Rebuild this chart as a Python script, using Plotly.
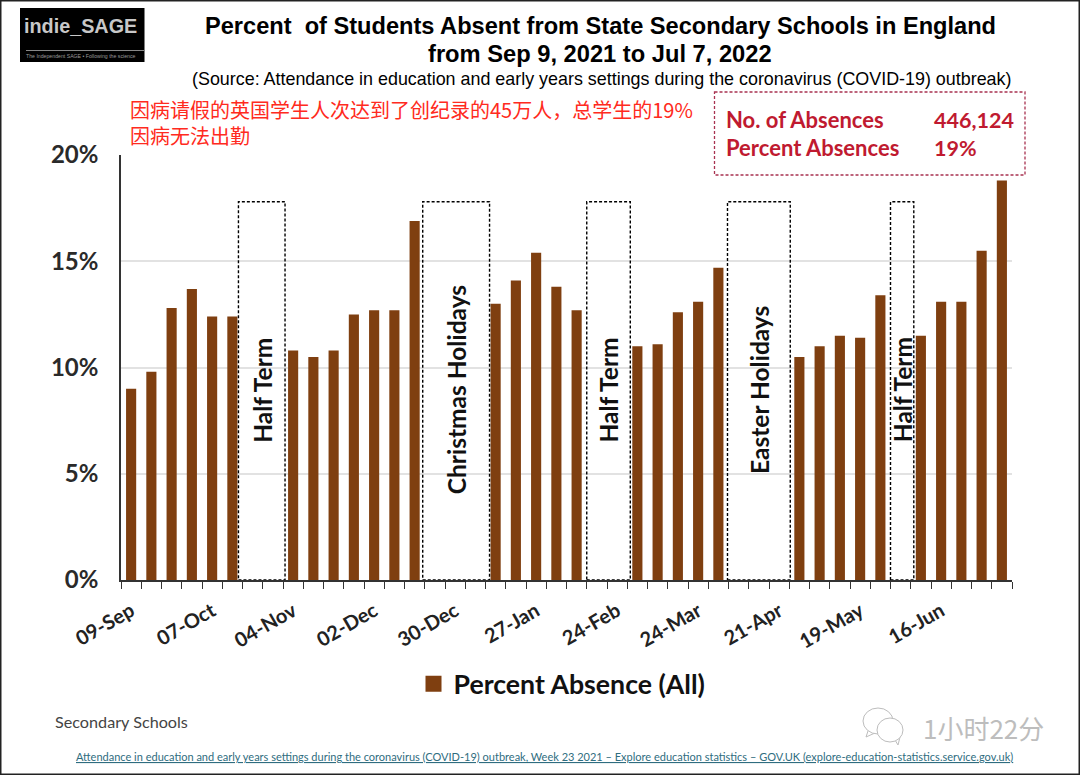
import plotly.graph_objects as go

W, H = 1080, 775
weeks = ["09-Sep","16-Sep","23-Sep","30-Sep","07-Oct","14-Oct","21-Oct","28-Oct","04-Nov","11-Nov","18-Nov","25-Nov",
         "02-Dec","09-Dec","16-Dec","23-Dec","30-Dec","06-Jan","13-Jan","20-Jan","27-Jan","03-Feb","10-Feb","17-Feb",
         "24-Feb","03-Mar","10-Mar","17-Mar","24-Mar","31-Mar","07-Apr","14-Apr","21-Apr","28-Apr","05-May","12-May",
         "19-May","26-May","02-Jun","09-Jun","16-Jun","23-Jun","30-Jun","07-Jul"]
absence = [9.0,9.8,12.8,13.7,12.4,12.4,None,None,10.8,10.5,10.8,12.5,12.7,12.7,16.9,None,None,None,13.0,14.1,15.4,13.8,12.7,
           None,None,11.0,11.1,12.6,13.1,14.7,None,None,None,10.5,11.0,11.5,11.4,13.4,None,11.5,13.1,13.1,15.5,18.8]
tick_labels = [w if i % 4 == 0 else "" for i, w in enumerate(weeks)]
holidays = [("Half Term",5.8,8.1),("Christmas Holidays",14.9,18.2),("Half Term",23.0,25.15),("Easter Holidays",29.95,33.05),("Half Term",38.0,39.15)]
holiday_top = 17.8
holiday_text_y = [8.94,8.94,8.94,8.94,8.94]

BROWN = "#7f3f10"
def px(x): return x / W
def py(y): return 1 - y / H

fig = go.Figure(go.Bar(x=weeks, y=absence, name="Percent Absence (All)", marker=dict(color=BROWN, line_width=0), width=0.5, showlegend=False))
fig.add_trace(go.Scatter(x=[None], y=[None], mode="markers", name="Percent Absence (All)",
                         marker=dict(symbol="square", size=16, color=BROWN), showlegend=True))

shapes = []
ann = []
for (name, a, b), ty in zip(holidays, holiday_text_y):
    shapes.append(dict(type="rect", xref="x", yref="y", x0=a-0.5, x1=b-0.5, y0=0, y1=holiday_top,
                       line=dict(color="#000", width=1.4, dash="3px,2px"), fillcolor="rgba(255,255,255,0)", layer="above"))
    ann.append(dict(text=f"<b>{name}</b>", xref="x", yref="y", x=(a+b)/2-0.5, y=ty, textangle=-90, showarrow=False,
                    font=dict(family="Lato", size=24.5, color="#111"), yanchor="middle", xanchor="center"))

def text(t, x, y, size, color="#000", family="Liberation Sans", anchor="center", **kw):
    ann.append(dict(text=t, xref="paper", yref="paper", x=px(x), y=py(y), showarrow=False, xanchor=anchor, yanchor="middle",
                    font=dict(family=family, size=size, color=color), **kw))

text("<b>Percent  of Students Absent from State Secondary Schools in England</b>", 600, 26, 23.6)
text("<b>from Sep 9, 2021 to Jul 7, 2022</b>", 600, 54, 23.7)
text("(Source: Attendance in education and early years settings during the coronavirus (COVID-19) outbreak)", 601, 79, 17.9)
text("因病请假的英国学生人次达到了创纪录的45万人，总学生的19%<br>因病无法出勤", 128, 123, 20, "#ff2a20", "Noto Sans CJK SC", "left", align="left")

# logo
shapes.append(dict(type="rect", xref="paper", yref="paper", x0=px(20), x1=px(144.5), y0=py(8), y1=py(62), fillcolor="#000", line_width=0, layer="above"))
shapes.append(dict(type="line", xref="paper", yref="paper", x0=px(26), x1=px(144), y0=py(50.5), y1=py(50.5), line=dict(color="#888", width=1), layer="above"))
text("<b>indie_SAGE</b>", 80, 26, 19.8, "#c8c8c8", "Liberation Sans")
text("The Independent SAGE • Following the science", 80, 56, 5.2, "#9a9a9a", "Liberation Sans")

# stat box
RED = "#c01a30"
shapes.append(dict(type="rect", xref="paper", yref="paper", x0=px(714.5), x1=px(1025), y0=py(92), y1=py(175), fillcolor="#fff",
                   line=dict(color="#a83250", width=1.3, dash="3px,2px"), layer="above"))
text("<b>No. of Absences</b>", 724, 120, 22, RED, "Lato", "left")
text("<b>Percent Absences</b>", 724, 148, 22, RED, "Lato", "left")
text("<b>446,124</b>", 932, 120, 21.5, RED, "Lato", "left")
text("<b>19%</b>", 932, 148, 21.5, RED, "Lato", "left")

text("Secondary Schools", 53, 721.5, 16.2, "#444", "Lato", "left")
text("<u>Attendance in education and early years settings during the coronavirus (COVID-19) outbreak, Week 23 2021 – Explore education statistics – GOV.UK (explore-education-statistics.service.gov.uk)</u>",
     544, 756, 11, "#2f6d80", "Lato")

# watermark
GR = "#bdbdbd"
text("1小时22分", 983, 727, 26, GR, "Noto Sans CJK SC")
shapes.append(dict(type="path", xref="paper", yref="paper", path=f"M {px(868)} {py(731)} L {px(866)} {py(737)} L {px(875)} {py(733)}",
                   line=dict(color=GR, width=1), layer="above"))
shapes.append(dict(type="path", xref="paper", yref="paper", path=f"M {px(895)} {py(740)} L {px(898)} {py(745)} L {px(900)} {py(737)}",
                   line=dict(color=GR, width=1), layer="above"))
for cx, cy, rx, ry in [(878, 721, 15, 13), (890, 730, 13, 12)]:
    shapes.append(dict(type="circle", xref="paper", yref="paper", x0=px(cx-rx), x1=px(cx+rx), y0=py(cy-ry), y1=py(cy+ry),
                       line=dict(color=GR, width=1), fillcolor="#fff", layer="above"))

# frame
shapes.append(dict(type="rect", xref="paper", yref="paper", x0=0, x1=1, y0=0, y1=1, line=dict(color="#222", width=3), layer="above"))

fig.update_layout(
    width=W, height=H, paper_bgcolor="#fff", plot_bgcolor="#fff",
    margin=dict(l=0, r=0, t=0, b=0, pad=0, autoexpand=False),
    shapes=shapes, annotations=ann,
    legend=dict(orientation="h", x=px(562), y=py(684), xanchor="center", yanchor="middle",
                font=dict(family="Lato", size=26.7, color="#111", weight="bold"), bgcolor="rgba(0,0,0,0)"),
    xaxis=dict(domain=[px(121), px(1012)], type="category", categoryorder="array", categoryarray=weeks,
               tickmode="array", tickvals=weeks, ticktext=tick_labels, tickson="boundaries", ticks="outside", ticklen=7,
               tickwidth=1, tickcolor="#333", showline=True, linecolor="#333", linewidth=1.5, showgrid=False,
               ticklabelstandoff=10,
               tickangle=-30, tickfont=dict(family="Lato", size=20, color="#222", weight="bold"), anchor="y", range=[-0.5, 43.5]),
    yaxis=dict(domain=[py(580), py(155)], range=[0, 20], tickmode="array", tickvals=[0,5,10,15,20], ticktext=["0%","5%","10%","15%","20%"],
               showgrid=True, gridcolor="#e2e2e2", gridwidth=1.5, zeroline=False, showline=True, linecolor="#333", linewidth=1.5,
               ticks="", ticklabelstandoff=16, tickfont=dict(family="Lato", size=24, color="#2a2a2a", weight="bold"), anchor="x"),
)
fig.write_html("out.html", config=dict(displayModeBar=False),
               post_script="document.body.style.margin='0';document.body.style.overflow='hidden';")
